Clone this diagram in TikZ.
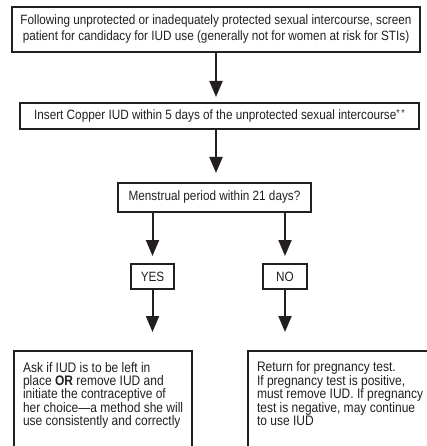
\documentclass[tikz,border=0pt]{standalone}
\usepackage{fontspec}
\setmainfont{Liberation Sans}[FakeStretch=0.87]
\usetikzlibrary{arrows.meta}
\definecolor{ink}{HTML}{231F20}
\newcommand\myline[1]{\hbox{#1}}
\begin{document}
\begin{tikzpicture}[x=1pt,y=-1pt,
  box/.style={draw=ink,line width=2pt,inner sep=0pt,text=ink,font=\fontsize{13.5}{16}\selectfont},
  tallbox/.style={box,anchor=north west,inner xsep=9pt,inner ysep=11pt},
  arr/.style={draw=ink,line width=2pt,-{Triangle[width=13pt,length=16pt]}}]
\useasboundingbox (0,0) rectangle (427,446);
\clip (0,0) rectangle (427,446);
\node[box,minimum width=408pt,minimum height=45pt,align=center] (b1) at (216,29.5)
  {Following unprotected or inadequately protected sexual intercourse, screen\\patient for candidacy for IUD use (generally not for women at risk for STIs)};
\node[box,minimum width=399pt,minimum height=26pt] (b2) at (219.5,116)
  {Insert Copper IUD within 5 days of the unprotected sexual intercourse\raisebox{3pt}{\fontsize{10}{10}\selectfont*\,*}};
\node[box,minimum width=193pt,minimum height=29pt] (b3) at (214.5,197.5)
  {Menstrual period within 21 days?};
\node[box,minimum width=43pt,minimum height=25pt] (yes) at (152.5,276.5) {YES};
\node[box,minimum width=44pt,minimum height=25pt] (no) at (285,276.5) {NO};
\node[tallbox] (bl) at (13,350)
  {\parbox[t][100pt][t]{150pt}{\fontsize{13.8}{13.4}\selectfont
   \myline{Ask if IUD is to be left in}\myline{place \textbf{OR} remove IUD and}\myline{initiate the contraceptive of}\myline{her choice---a method she will}\myline{use consistently and correctly}}};
\node[tallbox] (br) at (247,350)
  {\parbox[t][100pt][t]{158pt}{\fontsize{13.8}{13.4}\selectfont
   \myline{Return for pregnancy test.}\myline{If pregnancy test is positive,}\myline{must remove IUD. If pregnancy}\myline{test is negative, may continue}\myline{to use IUD}}};
\draw[arr] (b1.south) -- ([yshift=5pt]b1.south |- b2.north);
\draw[arr] (b1.south |- b2.south) -- ([yshift=9pt]b1.south |- b3.north);
\draw[arr] (yes.north |- b3.south) -- ([yshift=7pt]yes.north);
\draw[arr] (no.north |- b3.south) -- ([yshift=7pt]no.north);
\draw[arr] (yes.south) -- ([yshift=18pt]yes.south |- bl.north);
\draw[arr] (no.south) -- ([yshift=18pt]no.south |- br.north);
\end{tikzpicture}
\end{document}
